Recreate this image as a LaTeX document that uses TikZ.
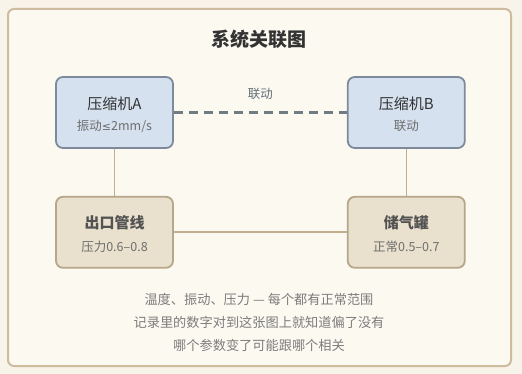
\documentclass[tikz,border=0pt]{standalone}
\usepackage{fontspec}
\setmainfont{Noto Sans CJK SC}
\newfontfamily\symfont{DejaVu Sans}
\usepackage{tikz}
\usetikzlibrary{positioning}
\definecolor{pagebg}{HTML}{F8F4EA}
\definecolor{framebg}{HTML}{FCF9F1}
\definecolor{frameline}{HTML}{CDBC9D}
\definecolor{blufill}{HTML}{D5E1EE}
\definecolor{bluline}{HTML}{7D8A9B}
\definecolor{tanfill}{HTML}{E9E0CD}
\definecolor{tanline}{HTML}{B7A78A}
\definecolor{linkline}{HTML}{C3AD8E}
\definecolor{dashline}{HTML}{6F7C86}
\definecolor{maintext}{HTML}{333333}
\definecolor{subtext}{HTML}{6E6E6E}

\begin{document}
\begin{tikzpicture}[x=1pt, y=-1pt,
  comp/.style={draw=bluline, line width=1.8pt, rounded corners=7pt, fill=blufill, minimum width=117pt, minimum height=71pt, align=center, text=maintext, inner sep=0pt},
  store/.style={draw=tanline, line width=1.8pt, rounded corners=7pt, fill=tanfill, minimum width=117pt, minimum height=71pt, align=center, text=maintext, inner sep=0pt},
  head/.style={font=\fontsize{15}{17}\selectfont, text=maintext},
  sub/.style={font=\fontsize{12.5}{14}\selectfont, text=subtext},
  link/.style={draw=linkline, line width=1.6pt},
  node distance=47pt and 173pt
]
  \fill[pagebg] (0,0) rectangle (522,374);
  \useasboundingbox (0,0) rectangle (522,374);
  \draw[frameline, line width=2pt, fill=framebg, rounded corners=6pt] (8,9) rectangle (511,366);

  \node[font=\bfseries\fontsize{19}{21}\selectfont, text=maintext] (title) at (259,39) {系统关联图};

  \node[comp] (compA) at (114.5,112.5) {};
  \node[comp, right=of compA] (compB) {};
  \node[store, below=of compA] (pipe) {};
  \node[store, below=of compB] (tank) {};

  % box texts
  \node[head] at ([yshift=9pt]compA.center) {压缩机A};
  \node[sub] at ([yshift=-13.5pt]compA.center) {振动{\symfont\fontsize{11}{13}\selectfont ≤}2mm/s};
  \node[head] at ([yshift=9pt]compB.center) {压缩机B};
  \node[sub] at ([yshift=-13.5pt]compB.center) {联动};
  \node[head, font=\bfseries\fontsize{15}{17}\selectfont, text=maintext!85] at ([yshift=10pt]pipe.center) {出口管线};
  \node[sub] at ([yshift=-14pt]pipe.center) {压力0.6–0.8};
  \node[head, font=\bfseries\fontsize{15}{17}\selectfont, text=maintext!85] at ([yshift=10pt]tank.center) {储气罐};
  \node[sub] at ([yshift=-14pt]tank.center) {正常0.5–0.7};

  % connectors
  \draw[dashline, line width=2.2pt, dash pattern=on 9pt off 6pt] (compA) -- node[above=8pt, sub, text=dashline!90!black] {联动} (compB);
  \draw[link] (compA) -- (pipe);
  \draw[link] (compB) -- (tank);
  \draw[link] (pipe) -- (tank);

  \node[sub, text=subtext!90, align=center, font=\fontsize{13.2}{23}\selectfont] (note) at (259,322)
    {温度、振动、压力 — 每个都有正常范围\\记录里的数字对到这张图上就知道偏了没有\\哪个参数变了可能跟哪个相关};
\end{tikzpicture}
\end{document}
